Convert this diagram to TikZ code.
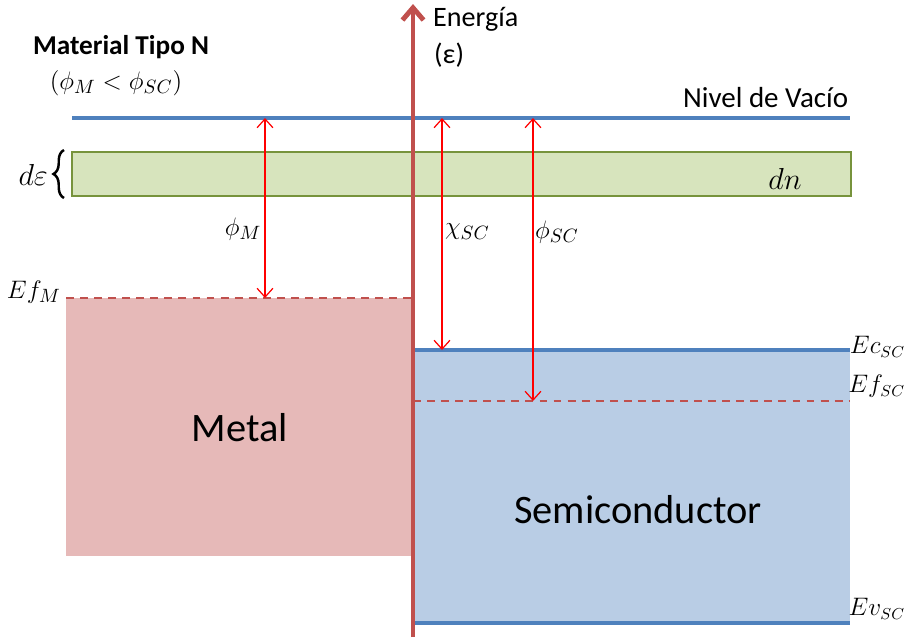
\documentclass[tikz,border=0pt]{standalone}
\usepackage{amsmath,amssymb}
\usepackage{fontspec}
\setmainfont{Carlito}
\usetikzlibrary{arrows.meta,positioning,decorations.pathreplacing}
\definecolor{vacblue}{HTML}{4F81BD}
\definecolor{axisred}{HTML}{C0504D}
\definecolor{metalfill}{HTML}{E6B9B8}
\definecolor{scfill}{HTML}{B9CDE5}
\definecolor{bandfill}{HTML}{D7E4BD}
\definecolor{banddraw}{HTML}{77933C}
\definecolor{arrowred}{HTML}{FF0000}
\tikzset{
  level/.style={vacblue,line width=2.3pt},
  fermi/.style={axisred,line width=0.7pt,dash pattern=on 4.5pt off 3.5pt},
  gap/.style={arrowred,line width=0.7pt,{Straight Barb[length=5pt,width=9pt]}-{Straight Barb[length=5pt,width=9pt]}},
  lbl/.style={font=\fontsize{15}{18}\selectfont,inner sep=1pt},
  big/.style={font=\fontsize{23}{28}\selectfont}
}

\begin{document}
\begin{tikzpicture}[x=0.02cm,y=-0.02cm]
  \useasboundingbox (0,0) rectangle (909,637);
  % bands
  \fill[metalfill] (66,298) rectangle (413,556);
  \fill[scfill] (413,350) rectangle (850,623);
  \draw[banddraw,fill=bandfill,line width=0.7pt] (72,152) rectangle (851,196);
  \node[lbl,font=\fontsize{18}{21}\selectfont] (dn) at (785,179) {$dn$};
  \draw[decorate,decoration={brace,amplitude=6pt},line width=1.4pt] (64,198) -- (64,150);
  \node[lbl,font=\fontsize{17}{20}\selectfont,anchor=east] (deps) at (50,175) {$d\varepsilon$};
  % levels
  \coordinate (vacL) at (72,118);
  \coordinate (vacR) at (850,118);
  \draw[level] (vacL) -- (vacR);
  \node[font=\fontsize{16.5}{19}\selectfont,anchor=south east,inner sep=2pt] (vac) at (852,112) {Nivel de Vacío};
  \coordinate (efML) at (66,298);
  \coordinate (efMR) at (413,298);
  \draw[fermi] (efML) -- (efMR);
  \node[lbl,anchor=east,inner sep=0pt] (efMlbl) at (61,292) {$Ef_M$};
  \coordinate (ecL) at (413,350);
  \coordinate (ecR) at (850,350);
  \draw[level] (ecL) -- (ecR);
  \node[lbl,font=\fontsize{13.5}{16}\selectfont,anchor=east] (eclbl) at (907,347) {$Ec_{SC}$};
  \coordinate (efL) at (413,401);
  \coordinate (efR) at (850,401);
  \draw[fermi] (efL) -- (efR);
  \node[lbl,font=\fontsize{13.5}{16}\selectfont,anchor=east] (eflbl) at (907,386) {$Ef_{SC}$};
  \coordinate (evL) at (413,623);
  \coordinate (evR) at (850,623);
  \draw[level] (evL) -- (evR);
  \node[lbl,font=\fontsize{13.5}{16}\selectfont,anchor=east] (evlbl) at (907,609) {$Ev_{SC}$};
  % texts
  \node[big] (metal) at (240,428) {Metal};
  \node[big] (sc) at (638,510) {Semiconductor};
  \node[font=\bfseries\fontsize{15.5}{18}\selectfont] (tipo) at (121,47) {Material Tipo N};
  \node[lbl] (cond) at (116,83) {$(\phi_M<\phi_{SC})$};
  % work functions
  \coordinate (phiMtop) at (265,118);
  \coordinate (phiMbot) at (265,298);
  \draw[gap] (phiMtop) -- (phiMbot);
  \node[lbl] (phiM) at (243,229) {$\phi_M$};
  \coordinate (chitop) at (442,118);
  \coordinate (chibot) at (442,350);
  \draw[gap] (chitop) -- (chibot);
  \node[lbl,anchor=west] (chi) at (443,232) {$\chi_{SC}$};
  \coordinate (phiStop) at (533,118);
  \coordinate (phiSbot) at (533,401);
  \draw[gap] (phiStop) -- (phiSbot);
  \node[lbl,anchor=west] (phiS) at (533,232) {$\phi_{SC}$};
  % energy axis
  \coordinate (ebot) at (413,637);
  \coordinate (etop) at (413,4);
  \draw[axisred,line width=2.8pt,-{Straight Barb[length=7pt,width=12pt]}] (ebot) -- (etop);
  \node[font=\fontsize{16}{19}\selectfont,anchor=west] (energ) at (427,19) {Energía};
  \node[font=\fontsize{16}{19}\selectfont,anchor=west] (eps) at (428,55) {(ε)};
\end{tikzpicture}
\end{document}
